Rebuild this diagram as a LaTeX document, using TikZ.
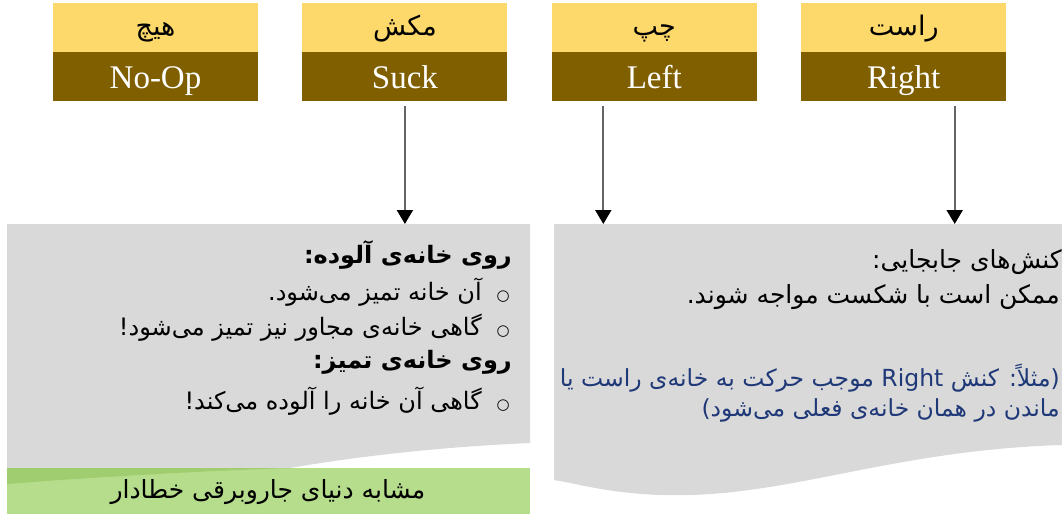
\documentclass[tikz,border=0pt]{standalone}
\usepackage{fontspec}
\setmainfont{Liberation Serif}
\newfontfamily\arabicfont[Script=Arabic]{DejaVu Sans}
\TeXXeTstate=1
\usetikzlibrary{positioning, arrows.meta, calc}
\definecolor{cY}{RGB}{253,216,106}
\definecolor{cB}{RGB}{127,95,0}
\definecolor{cG}{RGB}{217,217,217}
\definecolor{cL}{RGB}{181,221,139}
\definecolor{cD}{RGB}{160,205,112}
\definecolor{cN}{RGB}{31,56,120}
\newcommand{\bul}{{\fontsize{15}{15}\selectfont ○}\hspace{15pt}}

\begin{document}
\begin{tikzpicture}[x=1pt, y=1pt, node distance=0pt and 44pt,
                    enbox/.style={fill=cB, text=white, minimum width=205pt, minimum height=49pt, inner sep=0pt,
                                  text height=24pt, text depth=1pt, font=\fontsize{33}{33}\selectfont},
                    fabox/.style={fill=cY, minimum width=205pt, minimum height=49pt, inner sep=0pt,
                                  text height=20pt, text depth=3pt, font=\arabicfont\fontsize{27}{27}\selectfont},
                    txt/.style={anchor=east, inner sep=0pt, font=\arabicfont\fontsize{24}{24}\selectfont},
                    hdr/.style={txt, font=\arabicfont\bfseries\fontsize{24}{24}\selectfont},
                    act/.style={draw=black!60, line width=2pt, shorten <=5pt,
                                -{Triangle[color=black, width=16pt, length=14pt]}}]
    \useasboundingbox (0,0) rectangle (1062,-514);

    % Panels
    \fill[cG] (7,-224) -- (530,-224) -- (530,-443)
        .. controls (440,-447) and (360,-456) .. (290,-468) -- (7,-468) -- cycle;
    \fill[cL] (7,-468) rectangle (530,-514);
    \fill[cD] (7,-468) -- (290,-468) .. controls (200,-471) and (80,-478) .. (7,-484) -- cycle;
    \fill[cG] (554,-224) -- (1062,-224) -- (1062,-445)
        .. controls (900,-450) and (800,-492) .. (690,-495)
        .. controls (620,-497) and (580,-484) .. (554,-480) -- cycle;
    \coordinate (top) at (0,-224);

    % Nodes (Format: English / Persian)
    \node[enbox] (noop) at (155.5,-76.5) {No-Op};
    \node[enbox] (suck) [right=of noop] {Suck};
    \node[enbox] (mvL)  [right=of suck] {Left};
    \node[enbox] (mvR)  [right=of mvL]  {Right};
    \node[fabox] (hich)  [above=of noop] {\beginR هیچ\endR};
    \node[fabox] (makesh) [above=of suck] {\beginR مکش\endR};
    \node[fabox] (chap)  [above=of mvL]  {\beginR چپ\endR};
    \node[fabox] (rast)  [above=of mvR]  {\beginR راست\endR};

    % Left panel
    \node[hdr] (dirty)  at (512,-255) {\beginR روی خانه‌ی آلوده:\endR};
    \node[txt] (clean1) at (510,-292) {\beginR\bul آن خانه تمیز می‌شود.\endR};
    \node[txt] (clean2) at (510,-328) {\beginR\bul گاهی خانه‌ی مجاور نیز تمیز می‌شود!\endR};
    \node[hdr] (clean)  at (512,-362) {\beginR روی خانه‌ی تمیز:\endR};
    \node[txt] (soil)   at (510,-401) {\beginR\bul گاهی آن خانه را آلوده می‌کند!\endR};
    \node[txt, anchor=center, font=\arabicfont\fontsize{25}{25}\selectfont] (note) at (268,-492)
        {\beginR مشابه دنیای جاروبرقی خطادار\endR};

    % Right panel
    \node[txt, font=\arabicfont\fontsize{25}{25}\selectfont] (moves) at (1062,-262)
        {\beginR کنش‌های جابجایی:\endR};
    \node[txt, font=\arabicfont\fontsize{25}{25}\selectfont] (fail) at (1060,-297)
        {\beginR ممکن است با شکست مواجه شوند.\endR};
    \node[txt, text=cN, font=\arabicfont\fontsize{23.5}{23.5}\selectfont] (eg1) at (1060,-378)
        {\beginR(مثلاً: کنش \beginL Right\endL\ موجب حرکت به خانه‌ی راست یا\endR};
    \node[txt, text=cN, font=\arabicfont\fontsize{23.5}{23.5}\selectfont] (eg2) at (1060,-410)
        {\beginR ماندن در همان خانه‌ی فعلی می‌شود)\endR};

    % Edges
    \draw[act] (suck.south) -- (suck.south |- top);
    \draw[act] ([xshift=-51pt]mvL.south) -- ([xshift=-51pt]mvL.south |- top);
    \draw[act] ([xshift=51pt]mvR.south) -- ([xshift=51pt]mvR.south |- top);

\end{tikzpicture}
\end{document}
